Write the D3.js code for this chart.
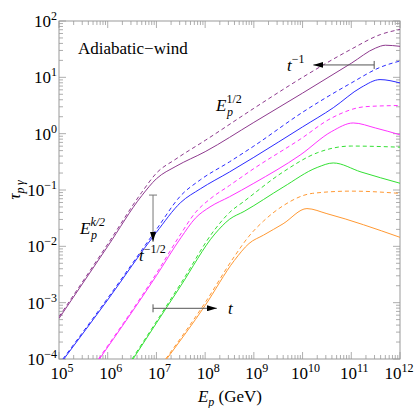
<!DOCTYPE html>
<html><head><meta charset="utf-8">
<script src="https://cdn.jsdelivr.net/npm/d3@7"></script>
<style>body{margin:0;background:#fff}text{font-family:"Liberation Serif",serif}</style>
</head><body><svg id="c" width="415" height="408"></svg>
<script>
// [log10 Ep, log10 tau]
const purpleSolid = [[5,-3.28],[6,-2.0],[6.7,-1.1],[7.0,-0.8],[7.4,-0.58],[8,-0.32],[9,0.2],[10,0.72],[11,1.25],[11.5,1.52],[11.7,1.57],[12,1.55]];
const purpleDash  = [[5,-3.25],[6,-1.96],[6.7,-1.04],[7.0,-0.7],[7.4,-0.45],[8,-0.12],[9,0.45],[10,1.0],[11,1.5],[11.6,1.76],[12,1.85]];
const blueSolid   = [[5.1,-4],[6,-2.95],[7,-1.75],[7.5,-1.22],[7.9,-0.98],[8.5,-0.68],[9,-0.42],[10,0.12],[10.63,0.46],[11.2,0.82],[11.59,0.96],[12,0.9]];
const blueDash    = [[5.08,-4],[6,-2.92],[7,-1.7],[7.5,-1.1],[7.9,-0.82],[8.5,-0.5],[9,-0.22],[10,0.38],[11,0.9],[11.6,1.18],[12,1.29]];
const magSolid    = [[5.83,-4],[7,-2.52],[7.5,-1.85],[7.8,-1.5],[8.1,-1.3],[8.5,-1.12],[9,-0.88],[9.95,-0.38],[10.6,0.04],[11.04,0.19],[11.5,0.1],[12,-0.02]];
const magDash     = [[5.81,-4],[7,-2.48],[7.5,-1.78],[7.8,-1.4],[8.1,-1.16],[8.5,-0.92],[9,-0.62],[9.95,-0.1],[10.6,0.28],[11.3,0.48],[12,0.5]];
const greenSolid  = [[6.52,-4],[7.5,-2.7],[8.2,-1.78],[8.5,-1.52],[8.8,-1.38],[9.6,-0.95],[10.3,-0.6],[10.63,-0.52],[11.2,-0.68],[12,-0.88]];
const greenDash   = [[6.5,-4],[7.5,-2.66],[8.2,-1.7],[8.5,-1.4],[8.8,-1.2],[9.6,-0.68],[10.3,-0.34],[11,-0.22],[12,-0.24]];
const orangeSolid = [[7.21,-4],[8,-3.05],[8.6,-2.25],[8.9,-1.95],[9.2,-1.8],[9.6,-1.6],[10.09,-1.33],[10.5,-1.42],[12,-1.84]];
const orangeDash  = [[7.19,-4],[8,-3.0],[8.6,-2.18],[8.9,-1.82],[9.2,-1.55],[9.6,-1.28],[10.2,-1.06],[11,-1.02],[12,-1.06]];
const xTicks = [5,6,7,8,9,10,11,12];
const yTicks = [-4,-3,-2,-1,0,1,2];

const series = [
  {d: purpleSolid, c:"#8e3a8e", dash:null}, {d: purpleDash, c:"#8e3a8e", dash:"4,3"},
  {d: blueSolid, c:"#2b2bff", dash:null}, {d: blueDash, c:"#2b2bff", dash:"4,3"},
  {d: magSolid, c:"#ff33ff", dash:null}, {d: magDash, c:"#ff33ff", dash:"4,3"},
  {d: greenSolid, c:"#33e033", dash:null}, {d: greenDash, c:"#33e033", dash:"4,3"},
  {d: orangeSolid, c:"#ff9933", dash:null}, {d: orangeDash, c:"#ff9933", dash:"4,3"}
];

const L = 59, R = 400, T = 21, B = 359;
const svg = d3.select('#c');
const x = d3.scaleLinear().domain([5,12]).range([L,R]);
const y = d3.scaleLinear().domain([-4,2]).range([B,T]);

svg.append('defs').append('clipPath').attr('id','clip')
  .append('rect').attr('x',L).attr('y',T).attr('width',R-L).attr('height',B-T);

// frame + ticks
svg.append('rect').attr('x',L).attr('y',T).attr('width',R-L).attr('height',B-T)
  .attr('fill','none').attr('stroke','#999').attr('stroke-width',1);
const minor = d3.range(1,10);
const tk = svg.append('g').attr('stroke','#999').attr('stroke-width',0.8);
xTicks.forEach(e => minor.forEach(m => {
  const v = e + Math.log10(m);
  if (v > 12) return;
  const len = m === 1 ? 7 : 4;
  tk.append('line').attr('x1',x(v)).attr('x2',x(v)).attr('y1',B).attr('y2',B-len);
  tk.append('line').attr('x1',x(v)).attr('x2',x(v)).attr('y1',T).attr('y2',T+len);
}));
yTicks.forEach(e => minor.forEach(m => {
  const v = e + Math.log10(m);
  if (v > 2) return;
  const len = m === 1 ? 7 : 4;
  tk.append('line').attr('y1',y(v)).attr('y2',y(v)).attr('x1',L).attr('x2',L+len);
  tk.append('line').attr('y1',y(v)).attr('y2',y(v)).attr('x1',R).attr('x2',R-len);
}));

function pow10(g, e, px, py, anchor) {
  const t = g.append('text').attr('x',px).attr('y',py).attr('text-anchor',anchor).attr('font-size',17);
  t.append('tspan').text('10');
  t.append('tspan').attr('dy',-7).attr('font-size',12).text(e < 0 ? '\u2212' + (-e) : e);
}
const lab = svg.append('g');
xTicks.forEach(e => pow10(lab, e, e === 12 ? x(e)-1 : x(e)+3, B+20, 'middle'));
yTicks.forEach(e => pow10(lab, e, L-2, y(e)+6, 'end'));

// curves
const line = d3.line().x(d => x(d[0])).y(d => y(d[1])).curve(d3.curveMonotoneX);
const g = svg.append('g').attr('clip-path','url(#clip)');
series.forEach(s => g.append('path').attr('d', line(s.d)).attr('fill','none')
  .attr('stroke', s.c).attr('stroke-width',1).attr('stroke-dasharray', s.dash));

// arrows
svg.append('defs').append('marker').attr('id','ah').attr('viewBox','0 0 10 6')
  .attr('refX',10).attr('refY',3).attr('markerWidth',10).attr('markerHeight',6)
  .attr('markerUnits','userSpaceOnUse').attr('orient','auto')
  .append('path').attr('d','M0,0L10,3L0,6Z').attr('fill','#000');
function arrow(x1,y1,x2,y2,col) {
  svg.append('line').attr('x1',x(x1)).attr('y1',y(y1)).attr('x2',x(x2)).attr('y2',y(y2))
    .attr('stroke',col).attr('stroke-width',1).attr('marker-end','url(#ah)');
  const vert = x1 === x2;
  svg.append('line').attr('stroke',col)
    .attr('x1', vert ? x(x1)-4 : x(x1)).attr('x2', vert ? x(x1)+4 : x(x1))
    .attr('y1', vert ? y(y1) : y(y1)-4).attr('y2', vert ? y(y1) : y(y1)+4);
}
arrow(11.47,1.22,10.22,1.22,'#555');
arrow(6.93,-1.09,6.93,-1.92,'#777');
arrow(6.93,-3.1,8.24,-3.1,'#555');

// labels: italic base letter, upright superscript, italic subscript below it
function label(px,py,base,sub,sup) {
  const t = svg.append('text').attr('x',px).attr('y',py).attr('font-size',17);
  t.append('tspan').attr('font-style','italic').text(base);
  if (sup) t.append('tspan').attr('dy',-8).attr('font-size',12)
    .attr('font-style', sup.includes('k') ? 'italic' : 'normal').text(sup);
  if (sub) svg.append('text').attr('x',px+11).attr('y',py+5).attr('font-size',12)
    .attr('font-style','italic').text(sub);
}
svg.append('text').attr('x',78).attr('y',54).attr('font-size',17).text('Adiabatic\u2212wind');
label(216,111,'E','p','1/2');
label(80,234,'E','p','k/2');
label(139,261,'t',null,'\u22121/2');
label(287,71,'t',null,'\u22121');
svg.append('text').attr('x',228).attr('y',314).attr('font-size',17).attr('font-style','italic').text('t');

const xl = svg.append('text').attr('x',230).attr('y',402).attr('text-anchor','middle').attr('font-size',17);
xl.append('tspan').attr('font-style','italic').text('E');
xl.append('tspan').attr('font-style','italic').attr('font-size',12).attr('dy',4).text('p');
xl.append('tspan').attr('dy',-4).text(' (GeV)');

const yl = svg.append('text').attr('transform','translate(20,190) rotate(-90)').attr('text-anchor','middle').attr('font-size',17);
yl.append('tspan').attr('font-style','italic').text('\u03c4');
yl.append('tspan').attr('font-style','italic').attr('font-size',12).attr('dy',4).text('p\u2009\u03b3');
</script></body></html>
